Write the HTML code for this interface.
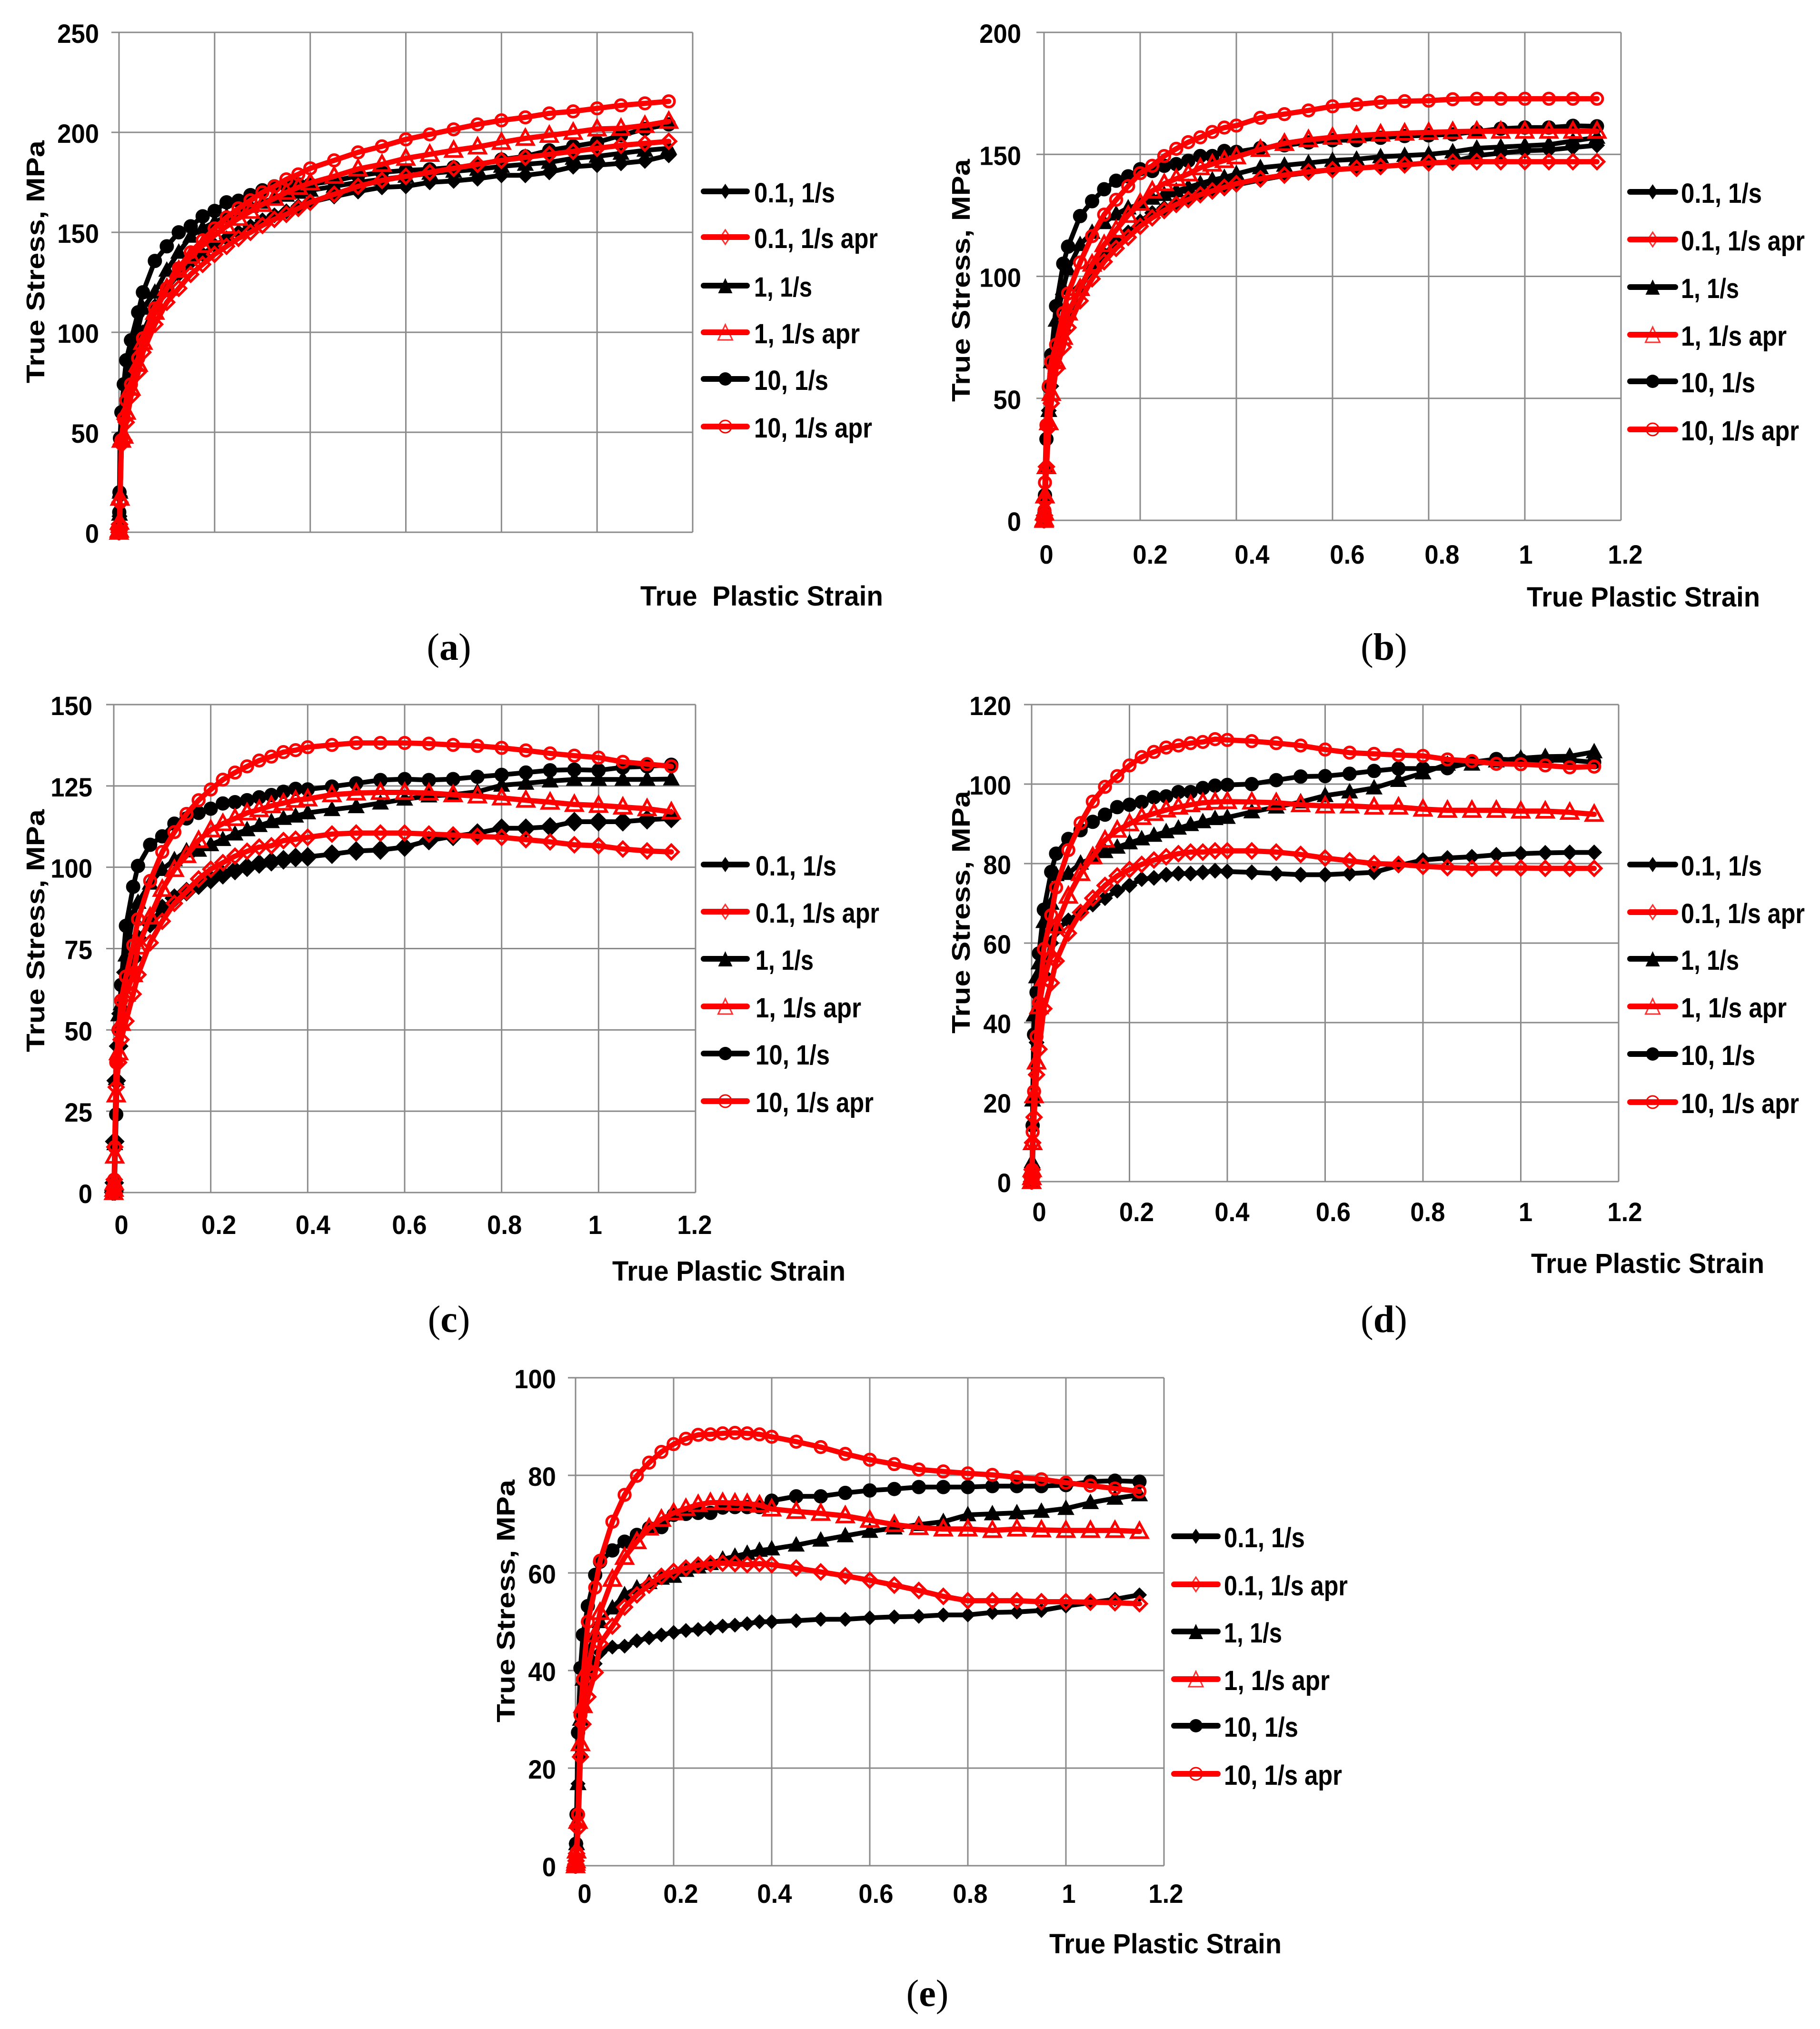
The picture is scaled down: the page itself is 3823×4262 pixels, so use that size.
<!DOCTYPE html>
<html lang="en">
<head>
<meta charset="utf-8">
<title>True stress versus true plastic strain charts</title>
<style>
html,body{margin:0;padding:0;background:#fff;}
svg{display:block;}
text{font-family:"Liberation Sans",Arial,sans-serif;font-weight:bold;fill:#000;}
</style>
</head>
<body>
<svg id="figure" xmlns="http://www.w3.org/2000/svg" width="3823" height="4262" viewBox="0 0 3823 4262">
<rect x="0" y="0" width="3823" height="4262" fill="#ffffff"/>
</svg>
<script>
// Shared strain samples, listed from the last point back to the origin.
const strain = [1.15,1.1,1.05,1,0.95,0.9,0.85,0.8,0.75,0.7,0.65,0.6,0.55,0.5,0.45,
  0.4,0.375,0.35,0.325,0.3,0.275,0.25,0.225,0.2,0.175,0.15,0.125,0.1,0.075,0.05,
  0.04,0.025,0.015,0.01,0.005,0.002,0.001,0.0005,0];
const seriesNames = ["0.1, 1/s","0.1, 1/s apr","1, 1/s","1, 1/s apr","10, 1/s","10, 1/s apr"];
const xTickValues = [0,0.2,0.4,0.6,0.8,1,1.2];
const xTickLabels = ["0","0.2","0.4","0.6","0.8","1","1.2"];

// Chart (a)
const yTicksA = [0,50,100,150,200,250];
const a01 = [188.5,185.7,184.5,183.6,182.8,180,178.5,178.5,176.8,175.7,175,173,172.5,170.4,167.9,
  165,163,160.5,158.5,156,153,150,147,143.5,139,135,129,122,113,100,
  93,82,72,60,48,18,8,3,0];
const a01apr = [195.5,194.5,193.5,192,190.5,189,187.5,186,184,182,180,178,176,173,169,
  165,162,159,156.5,153.5,150,147,143,139,134,129,122,115,104,90,
  80,68,55,46,44,15,4,1,0];
const a1 = [192,191,189.5,188,187,185,184,183,181.5,180.5,179.5,178,176.5,175,173,
  171,170,168.5,167,165,163,160,158,155,152,148,140,131,120,112,
  102,90,76,62,47,20,9,3,0];
const a1apr = [205.5,203.4,202,201.7,200,198.5,197,195,192.7,191,189,187,184,181.7,178,
  174.7,172.5,170,167,164,160.5,157,153,148.5,143.5,138,131,122,110,95,
  84,72,60,48,46,17,5,1,0];
const a10 = [204,201.7,198.5,195,193,191,188,186.4,183.5,182.5,181.5,181,180,178.3,175.7,
  174,174,173.5,173,171,168.6,165.8,165,160.7,158,153,150,143,135.7,120,
  110,96,86,74,60,47,20,10,0];
const a10apr = [215.5,214.5,213.5,212,210.5,209.5,207.5,206,204,201.5,199,196.5,193,190,186,
  182,179,176.5,173,170,166,162,157.5,152,146,140,132,122,112,97,
  87,74,66,57,46,15,3,1,0];

// Chart (b)
const yTicksB = [0,50,100,150,200];
const b01 = [153.7,152.8,151.8,151.5,150.5,149.5,147,146.5,145.8,145,144.3,143.7,142.5,141.3,139.5,
  137.5,136,135,133.5,131.5,130,128,126,122.5,118,114,109,103,95,84,
  78,68,55,45,22,8,2,0.5,0];
const b01apr = [147,147,147,147,147,147,146.8,146.5,145.7,145,144.3,143.7,142.8,141.5,140,
  138,136.5,135,133.5,131.5,129.5,127,124,120.5,116,111.5,106,99,90,79,
  71,62,48,38,22,8,2,0.5,0];
const b1 = [157,155.5,154,153.5,153,152.5,151,150,149.5,149,148,147.5,146.5,145.5,144.5,
  142,140.5,139.5,138,136.5,135,133.5,132,129.5,128,125.5,122,118,113,103,
  95,82,65,45,22,10,3,1,0];
const b1apr = [159.5,159.5,159.5,159.5,159.5,159.5,159.3,159,158.7,158.3,157.7,157,156,154.5,152,
  149,147.5,146,144.5,142,140,138,135,130,125,119,113,105,95,85,
  75,65,52,40,22,10,3,0.5,0];
const b10 = [161.5,161.7,161,161,160.5,159.4,158.2,157.8,157.5,156.8,155.8,155.8,154.9,153.7,152.6,
  151,151.4,149.3,149.3,147.4,146,145.3,143.2,143.9,141,139.2,135.7,130.8,124.7,112.2,
  105.2,87.8,67.8,54.7,33.3,10.3,3,1,0];
const b10apr = [172.8,172.8,172.8,172.8,172.8,172.8,172.6,172,171.8,171.4,170.5,169.7,168,166.5,165,
  161.8,161,159.2,157,155,152.3,149.3,145.3,142.3,137,131.4,125.3,116.5,105.7,93,
  85,72,65,55,39,15.5,4,2,0];

// Chart (c)
const yTicksC = [0,25,50,75,100,125,150];
const c01 = [115,114.6,114,114,114,112.4,112,112,110.5,109.5,108.2,106.2,105.3,105,104,
  103.2,103,102.3,101.7,101,100,99,97.7,96.2,94.5,92.5,90.5,87.3,82.7,78,
  72,67.7,55,45,34.4,15.7,3,0.5,0];
const c01apr = [104.7,105,105.6,106.6,106.9,107.8,108.5,109.2,109.5,109.9,110.2,110.5,110.5,110.5,110.2,
  109.2,108.6,108.2,106.6,106.2,104.9,103.4,101.4,99.4,96.4,92.5,88.9,83.4,76.8,67,
  61,52.7,47,40,32.4,14,4,1,0];
const c1 = [127.1,127,127,127,127,126.5,125.8,125.2,123.2,122.3,121.9,120.9,119.7,118.6,117.7,
  116.7,115.7,115,114,112.8,111.5,110.2,108.5,106.9,105.2,105,102.3,99.3,95.1,89.2,
  85,73,58,54.6,35,15,3,1,0];
const c1apr = [117,118,118.5,119,119.3,120,120.6,121.3,121.9,122.3,122.8,123,123,122.8,122.3,
  121,120.6,119.7,118.9,117.7,116.7,115,113.4,111.5,108.2,103.6,99.3,93.2,84.7,75.5,
  67,61,52,43,30,11.2,3,1,0];
const c10 = [131.5,131,130.7,129.8,130,129.8,129.1,128.4,127.8,127.1,126.8,127.1,126.8,125.8,124.8,
  123.9,124.1,123.2,122.2,121.5,120.6,120,119.6,118,116.7,115,113.4,109.5,106.9,100.4,
  94,82,63.8,50,24,3.7,1.5,0.5,0];
const c10apr = [131,131.7,132.4,133.7,134.3,135,135.9,136.7,137.3,137.6,138,138.2,138.2,138.2,137.6,
  136.9,136,135.4,134,132.8,131,129.1,126.9,123.9,120.6,116.4,110.8,104.7,95.8,84,
  76,66.4,59,50,40,14,4,2,0];

// Chart (d)
const yTicksD = [0,20,40,60,80,100,120];
const d01 = [82.8,82.8,82.7,82.5,82.2,81.7,81.4,80.9,79.5,77.8,77.5,77.2,77.2,77.5,77.8,
  78,78.2,77.8,77.5,77.5,77.2,76.4,76.1,74.5,73.2,71.3,69.7,67.7,65.7,63.3,
  60,52,43,35,20.5,3.4,2,0.5,0];
const d01apr = [78.8,78.8,78.8,78.9,78.9,78.8,79,79.3,79.8,80,80.7,81.4,82.3,82.9,83.2,
  83.2,83.2,82.9,82.9,82.5,81.7,80.9,79.8,78.5,76.9,74.5,71.3,67.7,62.5,55.5,
  50,43.5,33.3,26.9,16.2,9.8,3,1,0];
const d1 = [108.1,107,106.9,106.5,105.8,105,105,102.8,100.9,99,98,97.1,95.5,94.2,93,
  91.6,91.3,90.5,89.8,88.9,88,87.1,86.2,85.2,84.1,83,81.4,80.1,77.5,77.2,
  70,65.4,55,51.5,41.9,20.5,5,1,0];
const d1apr = [92.4,92.9,93.2,93.2,93.4,93.4,93.4,93.7,94.2,94.2,94.5,94.5,94.8,95.3,95.5,
  95.6,95.5,95.3,94.8,94.2,93.5,92.6,91.6,90,88.4,85.9,81.7,77.5,71.8,64.3,
  57,51,44,30.1,21.6,9.8,3,1,0];
const d10 = [105.5,106,106,106,106.3,105.5,104,103.9,103.9,103.3,102.6,102,101.9,101,100,
  99.8,99.6,99,98,98,96.9,96.7,95.5,94.8,94.2,92.3,90.5,88.4,86.2,82.5,
  77.9,68.4,57.4,47.6,37,14.1,3.4,1,0];
const d10apr = [104.4,104.2,104.7,105,105.1,105.8,106.2,107.1,107.3,107.6,107.9,108.7,109.7,110.3,110.8,
  111.1,111.3,110.6,110.3,109.7,109.2,108.1,106.8,104.7,102,99.3,95.6,90.2,83.4,74,
  67,58.5,45,36.5,22.7,12.5,3,1.5,0];

// Chart (e)
const yTicksE = [0,20,40,60,80,100];
const e01 = [55.5,54.6,53.9,53.2,52.3,52,51.9,51.4,51.4,51.1,51,50.8,50.5,50.5,50.2,
  50,50,49.6,49.3,49.1,48.7,48.4,48.2,47.8,47.3,46.7,46.1,45,44.8,43.7,
  41.4,39.1,31.8,22.7,16.8,8.2,4.5,1,0];
const e01apr = [53.7,53.9,54,54.1,54.1,54.3,54.3,54.3,55.2,56.4,57.5,58.5,59.4,60.2,61,
  61.7,61.9,61.7,61.9,62,61.9,61.6,61,60.3,59.3,57.5,55.5,53,49.1,45.5,
  39.6,34.6,29,22.3,7.7,2.5,1,0.3,0];
const e1 = [76,75.3,74.4,73.2,72.6,72.3,72.1,71.9,70.5,69.9,69.2,68.5,67.6,66.7,65.7,
  64.9,64.6,64,63.4,62.8,61.9,61.2,60.5,59.3,58.9,58,56.9,55.5,52.8,50,
  47.3,43.7,38.2,30,16.8,4.5,1.5,0.5,0];
const e1apr = [68.5,68.7,68.7,68.7,68.8,69,68.7,69,69,69.3,69.9,70.8,71.7,72.2,72.6,
  73.1,73.9,74.2,74.3,74.4,74.4,74,73.2,72.3,71,69.2,66.4,63.2,58.7,51.9,
  47.3,40.5,32.8,25,9.1,3,1,0.5,0];
const e10 = [78.7,78.9,78.7,78,77.8,77.8,77.8,77.6,77.6,77.6,77.2,76.9,76.4,75.7,75.7,
  74.8,73.5,73.5,73.5,73.4,72.3,72.3,72.1,71.9,69.4,69.2,67.8,66.4,64.6,62.3,
  59.6,53.2,47.3,40.5,27.3,10.5,4.5,1,0];
const e10apr = [76.7,77.3,77.9,78.5,79.2,79.6,80.1,80.4,80.8,81.2,82.3,83.2,84.4,85.8,86.9,
  87.9,88.4,88.6,88.7,88.6,88.4,88.3,87.5,86.4,84.8,82.6,79.9,76,70.5,62.5,
  57,50,38.2,30.9,10.5,2.7,1.5,0.5,0];

const charts = [
  {id:'a',caption:'a',left:250,right:1455,top:68,bottom:1118,yMax:250,yTicks:yTicksA,series:[a01,a01apr,a1,a1apr,a10,a10apr],
   yLabelRight:208,xLabelY:null,xNudge:null,yTitleX:93,yTitleY:550,xTitleLeft:1345,xTitleWidth:510,xTitleBase:1272,
   legLine:[1472,1575],legText:1584,legY:[402,498,600,698,796,896],capX:943,capY:1386,dia:16},
  {id:'b',caption:'b',left:2193,right:3405,top:68,bottom:1093,yMax:200,yTicks:yTicksB,series:[b01,b01apr,b1,b1apr,b10,b10apr],
   yLabelRight:2145,xLabelY:1184,xNudge:[5,21,33,31,28,2,9],yTitleX:2037,yTitleY:589,xTitleLeft:3207,xTitleWidth:490,xTitleBase:1274,
   legLine:[3418,3525],legText:3531,legY:[403,503,603,703,801,902],capX:2907,capY:1386,dia:16},
  {id:'c',caption:'c',left:239,right:1461,top:1480,bottom:2505,yMax:150,yTicks:yTicksC,series:[c01,c01apr,c1,c1apr,c10,c10apr],
   yLabelRight:194,xLabelY:2592,xNudge:[16,17,11,10,6,-7,-2],yTitleX:93,yTitleY:1955,xTitleLeft:1286,xTitleWidth:490,xTitleBase:2690,
   legLine:[1472,1575],legText:1587,legY:[1816,1915,2014,2114,2213,2313],capX:943,capY:2798,dia:20},
  {id:'d',caption:'d',left:2167,right:3400,top:1480,bottom:2482,yMax:120,yTicks:yTicksD,series:[d01,d01apr,d1,d1apr,d10,d10apr],
   yLabelRight:2124,xLabelY:2565,xNudge:[16,15,10,17,10,10,13],yTitleX:2037,yTitleY:1916,xTitleLeft:3216,xTitleWidth:490,xTitleBase:2674,
   legLine:[3418,3525],legText:3531,legY:[1816,1916,2014,2114,2214,2315],capX:2907,capY:2798,dia:16},
  {id:'e',caption:'e',left:1209,right:2445,top:2894,bottom:3919,yMax:100,yTicks:yTicksE,series:[e01,e01apr,e1,e1apr,e10,e10apr],
   yLabelRight:1168,xLabelY:3997,xNudge:[19,15,6,13,5,6,4],yTitleX:1081,yTitleY:3363,xTitleLeft:2204,xTitleWidth:488,xTitleBase:4103,
   legLine:[2460,2564],legText:2571,legY:[3227,3328,3427,3527,3625,3726],capX:1948,capY:4214,dia:15}
];
const legendWidths = [170,260,122,222,156,248];
const seriesColors = ['#000000','#ff0000','#000000','#ff0000','#000000','#ff0000'];
const seriesShapes = ['diamond','diamond','triangle','triangle','circle','circle'];
const drawOrder = [0,2,4,1,3,5];

const NS = 'http://www.w3.org/2000/svg';
const svg = document.getElementById('figure');
function make(tag, attrs, parent){
  const el = document.createElementNS(NS, tag);
  for(const k in attrs){ el.setAttribute(k, attrs[k]); }
  parent.appendChild(el);
  return el;
}
function fitText(el, ratio){
  el.setAttribute('textLength', (el.getComputedTextLength()*ratio).toFixed(1));
  el.setAttribute('lengthAdjust', 'spacingAndGlyphs');
}
function drawMarker(parent, shape, color, cx, cy, half){
  const hollow = color !== '#000000';
  const style = hollow
    ? {fill:'none', stroke:color, 'stroke-width':5.5}
    : {fill:color, stroke:color, 'stroke-width':1};
  let el;
  if(shape === 'circle'){
    el = make('circle', Object.assign({cx:cx.toFixed(1), cy:cy.toFixed(1), r:hollow?12:14.5}, style), parent);
  } else if(shape === 'diamond'){
    const p = [cx,cy-half,cx+half,cy,cx,cy+half,cx-half,cy].map(v=>v.toFixed(1)).join(' ');
    el = make('polygon', Object.assign({points:p}, style), parent);
  } else {
    const p = [cx,cy-18,cx+17,cy+13,cx-17,cy+13].map(v=>v.toFixed(1)).join(' ');
    el = make('polygon', Object.assign({points:p}, style), parent);
  }
  return el;
}

charts.forEach(function(c){
  const xScale = v => c.left + v*(c.right-c.left)/1.2;
  const yScale = v => c.bottom - v*(c.bottom-c.top)/c.yMax;
  const g = make('g', {}, svg);
  
  

  const clip = make('clipPath', {id:'clip-'+c.id}, g);
  make('rect', {x:c.left-40, y:c.top-40, width:c.right-c.left+80, height:c.bottom-c.top+57}, clip);

  // gridlines and y ticks
  c.yTicks.forEach(function(t){
    const gl = make('line', {x1:c.left-16, x2:c.right, y1:yScale(t), y2:yScale(t), stroke:'#8a8a8a', 'stroke-width':3}, g);
    
    
    const lb = make('text', {x:c.yLabelRight, y:yScale(t)+22, 'text-anchor':'end', 'font-size':56}, g);
    lb.textContent = String(t);
    fitText(lb, 0.94);
    
    
  });
  xTickValues.forEach(function(t, i){
    const gl = make('line', {x1:xScale(t), x2:xScale(t), y1:c.top, y2:c.bottom, stroke:'#8a8a8a', 'stroke-width':3}, g);
    
    
    if(c.xNudge){
      const lb = make('text', {x:xScale(t)+c.xNudge[i], y:c.xLabelY, 'text-anchor':'middle', 'font-size':56}, g);
      lb.textContent = xTickLabels[i];
      fitText(lb, 0.94);
      
      
    }
  });

  // series lines and markers
  const plot = make('g', {'clip-path':'url(#clip-'+c.id+')'}, g);
  
  
  drawOrder.forEach(function(si){
    const values = c.series[si];
    const color = seriesColors[si];
    const sg = make('g', {}, plot);
    
    
    const pts = values.map((v,i)=>xScale(strain[i]).toFixed(1)+','+yScale(v).toFixed(1)).join(' ');
    const ln = make('polyline', {points:pts, fill:'none', stroke:color, 'stroke-width':color==='#000000'?10:11, 'stroke-linejoin':'round', 'stroke-linecap':'round'}, sg);
    
    
    values.forEach(function(v,i){
      const half = (seriesShapes[si]==='diamond' && color==='#000000') ? c.dia : 15;
      const m = drawMarker(sg, seriesShapes[si], color, xScale(strain[i]), yScale(v), half);
      
      
    });
  });

  // legend
  seriesNames.forEach(function(name, i){
    const lg = make('g', {}, g);
    
    
    const y = c.legY[i];
    const mid = (c.legLine[0]+c.legLine[1])/2;
    const hollow = seriesColors[i] !== '#000000';
    if(hollow){
      let mk;
      if(seriesShapes[i]==='circle'){ mk = make('circle',{cx:mid,cy:y,r:13,fill:'#fff',stroke:'#ff0000','stroke-width':3},lg); }
      else if(seriesShapes[i]==='diamond'){ mk = make('polygon',{points:[mid,y-15,mid+10,y,mid,y+15,mid-10,y].join(' '),fill:'#fff',stroke:'#ff3030','stroke-width':3},lg); }
      else { mk = make('polygon',{points:[mid,y-16,mid+15,y+16,mid-15,y+16].join(' '),fill:'#fff',stroke:'#ff3030','stroke-width':3},lg); }
      
      
    }
    const ll = make('line', {x1:c.legLine[0]+6, x2:c.legLine[1]-6, y1:y, y2:y, stroke:seriesColors[i], 'stroke-width':12, 'stroke-linecap':'round'}, lg);
    
    
    if(!hollow){
      let mk;
      if(seriesShapes[i]==='circle'){ mk = make('circle',{cx:mid,cy:y,r:14,fill:'#000'},lg); }
      else if(seriesShapes[i]==='diamond'){ mk = make('polygon',{points:[mid,y-16,mid+11,y,mid,y+16,mid-11,y].join(' '),fill:'#000'},lg); }
      else { mk = make('polygon',{points:[mid,y-16,mid+15,y+16,mid-15,y+16].join(' '),fill:'#000'},lg); }
      
      
    }
    const lt = make('text', {x:c.legText, y:y+23, 'font-size':58, textLength:legendWidths[i], lengthAdjust:'spacingAndGlyphs'}, lg);
    lt.textContent = name;
    
    
  });

  // axis titles
  const yt = make('text', {transform:'translate('+c.yTitleX+','+c.yTitleY+') rotate(-90)', 'text-anchor':'middle', 'font-size':54, textLength:510, lengthAdjust:'spacingAndGlyphs'}, g);
  yt.textContent = 'True Stress, MPa';
  
  
  const xt = make('text', {x:c.xTitleLeft, y:c.xTitleBase, 'font-size':58, textLength:c.xTitleWidth, lengthAdjust:'spacingAndGlyphs'}, g);
  xt.textContent = c.id==='a' ? 'True\u00A0 Plastic Strain' : 'True Plastic Strain';
  
  

  // caption
  const cap = make('text', {x:c.capX, y:c.capY, 'text-anchor':'middle', 'font-size':80, style:'font-family:"Liberation Serif",serif;font-weight:normal'}, g);
  cap.appendChild(document.createTextNode('('));
  const ts = make('tspan', {style:'font-weight:bold'}, cap);
  ts.textContent = c.caption;
  cap.appendChild(document.createTextNode(')'));
  
  
});
</script>
</body>
</html>
